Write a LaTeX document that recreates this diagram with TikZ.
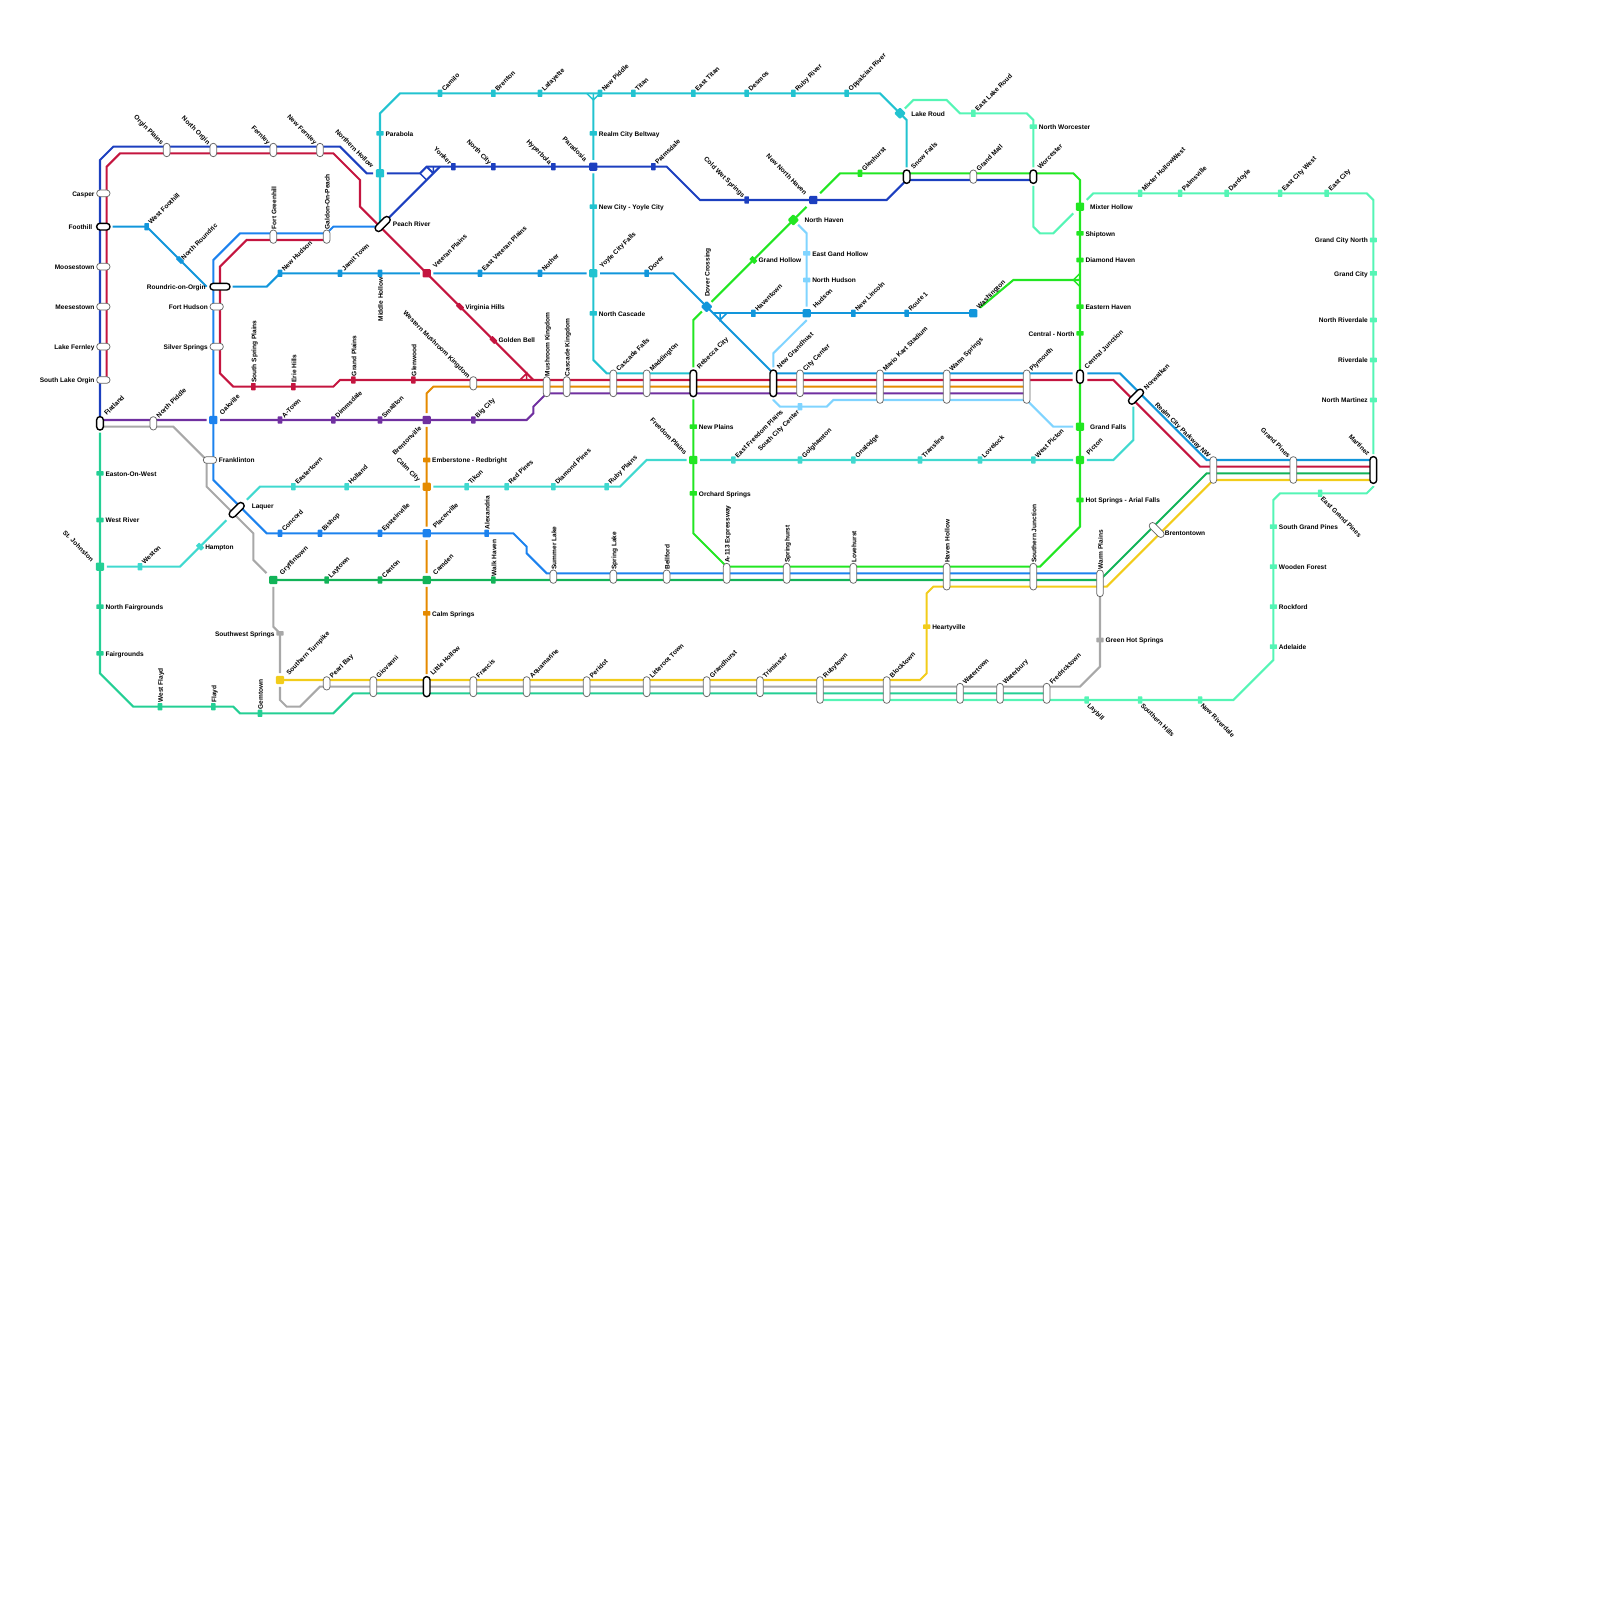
\documentclass[tikz,border=0pt]{standalone}
\usepackage{fontspec}
\setmainfont{Liberation Sans}
\usetikzlibrary{backgrounds}
\definecolor{line-navy}{HTML}{1C3FBF}
\definecolor{line-red}{HTML}{C4153F}
\definecolor{line-cyan}{HTML}{22C3D0}
\definecolor{line-ltblue}{HTML}{1296DB}
\definecolor{line-sky}{HTML}{80D4FF}
\definecolor{line-blue}{HTML}{1C82EE}
\definecolor{line-purple}{HTML}{7030A0}
\definecolor{line-orange}{HTML}{E58A00}
\definecolor{line-bgreen}{HTML}{22E622}
\definecolor{line-dgreen}{HTML}{12B358}
\definecolor{line-turq}{HTML}{40D9CF}
\definecolor{line-foam}{HTML}{24CF94}
\definecolor{line-mint}{HTML}{55F5B5}
\definecolor{line-yellow}{HTML}{F2CC1A}
\definecolor{line-gray}{HTML}{A8A8A8}
\tikzset{
  rail/.style={line width=2.2pt},
  tiny rail/.style={line width=1.6pt},
  stop/.style={rectangle, rounded corners=.02cm, inner sep=0pt, minimum width=.17cm, minimum height=.27cm},
  stoph/.style={rectangle, rounded corners=.02cm, inner sep=0pt, minimum width=.27cm, minimum height=.17cm},
  stopd/.style={stop, rotate=45},
  hub/.style={rectangle, rounded corners=.04cm, inner sep=0pt, minimum size=.31cm, outer sep=.1cm},
  capv/.style={draw=black!60, fill=white, line width=.8pt, rounded corners=.12cm, inner sep=0pt, minimum width=.25cm, minimum height=#1*.25cm},
  caph/.style={draw=black!60, fill=white, line width=.8pt, rounded corners=.12cm, inner sep=0pt, minimum height=.25cm, minimum width=#1*.25cm},
  capk/.style={capv=#1, draw=black, line width=1.5pt, outer sep=.1cm},
  capw/.style={caph=#1, draw=black, line width=1.5pt, outer sep=.1cm},
  lbl/.style={font=\fontsize{7}{8}\selectfont\bfseries, inner sep=0pt, text height=1.6ex, text depth=.4ex, text=black},
  tne/.style={lbl, rotate=45, anchor=west},
  tnw/.style={lbl, rotate=-45, anchor=east},
  tse/.style={lbl, rotate=-45, anchor=west},
  tsw/.style={lbl, rotate=45, anchor=east},
  tn/.style={lbl, rotate=90, anchor=west},
  ts/.style={lbl, rotate=90, anchor=east},
  te/.style={lbl, anchor=west, label distance=.06cm},
  tw/.style={lbl, anchor=east, label distance=.06cm},
}
\begin{document}
\begin{tikzpicture}[x=.25cm, y=-.25cm]
      \useasboundingbox (0,0) rectangle (240,240);
      % left column
      \node[caph=2, label={[tw]180:Casper}] (CASP) at (15.5,29) {};
      \node[capw=2, label={[tw]180:Foothill}] (FOOT) at (15.5,34) {};
      \node[caph=2, label={[tw]180:Moosestown}] (MOOS) at (15.5,40) {};
      \node[caph=2, label={[tw]180:Meesestown}] (MEES) at (15.5,46) {};
      \node[caph=2, label={[tw]180:Lake Fernley}] (LFER) at (15.5,52) {};
      \node[caph=2, label={[tw]180:South Lake Orgin}] (SLO) at (15.5,57) {};
      \node[capk=2, label={[tne]63:Flatland}] (FLAT) at (15,63.5) {};
      % top left
      \node[capv=2, label={[tnw]117:Orgin Plains}] (ORG) at (25,22.5) {};
      \node[capv=2, label={[tnw]117:North Orgin}] (NORG) at (32,22.5) {};
      \node[capv=2, label={[tnw]117:Fernley}] (FERN) at (41,22.5) {};
      \node[capv=2, label={[tnw]117:New Fernley}] (NFER) at (48,22.5) {};
      \node[hub, fill=line-cyan, label={[tnw]135:Northern Hollow}] (NHOL) at (57,26) {};
      \node[capw=2.75, rotate=45, label={[te]-45:Peach River}] (PEAC) at (57.4,33.6) {};
      % light blue and blue, west
      \node[stop, fill=line-ltblue, label={[tne]59:West Foothill}] (WFOO) at (22,34) {};
      \node[stopd, fill=line-ltblue, label={[tne]0:North Roundric}] (NROU) at (27,39) {};
      \node[capw=3, label={[tw]180:Roundric-on-Orgin}] (ROUN) at (33,43) {};
      \node[caph=2, label={[tw]180:Fort Hudson}] (FHUD) at (32.5,46) {};
      \node[caph=2, label={[tw]180:Silver Springs}] (SILV) at (32.5,52) {};
      \node[capv=2, label={[tn]90:Fort Greenhill}] (FGRE) at (41,35.5) {};
      \node[capv=2, label={[tn]90:Galdon-On-Peach}] (GALD) at (49,35.5) {};
      \node[stop, fill=line-ltblue, label={[tne]59:New Hudson}] (NHUD) at (42,41) {};
      \node[stop, fill=line-ltblue, label={[tne]59:Jamit Town}] (JAMI) at (51,41) {};
      \node[stop, fill=line-ltblue, label={[ts]270:Middle Hollow}] (MIDH) at (57,41) {};
      \node[hub, fill=line-red, label={[tne]45:Veteran Plains}] (VET) at (64,41) {};
      \node[stop, fill=line-ltblue, label={[tne]59:East Veteran Plains}] (EVP) at (72,41) {};
      \node[stop, fill=line-ltblue, label={[tne]59:Nother}] (NOTH) at (81,41) {};
      \node[hub, fill=line-cyan, label={[tne]45:Yoyle City Falls}] (YCF) at (89,41) {};
      \node[stop, fill=line-ltblue, label={[tne]59:Dover}] (DOVR) at (97,41) {};
      \node[hub, rotate=45, fill=line-ltblue, label={[tn]45:Dover Crossing}] (DOVC) at (106,46) {};
      \node[stop, fill=line-ltblue, label={[tne]59:Haventown}] (HAVE) at (113,47) {};
      \node[hub, fill=line-ltblue, label={[tne]45:Hudson}] (HUDS) at (121,47) {};
      \node[stop, fill=line-ltblue, label={[tne]59:New Lincoln}] (NLIN) at (128,47) {};
      \node[stop, fill=line-ltblue, label={[tne]59:Route 1}] (ROUT) at (136,47) {};
      \node[hub, fill=line-ltblue, label={[tne, xshift=-.1cm, yshift=.06cm]45:Washington}] (WASH) at (146,47) {};
      % red
      \node[stopd, fill=line-red, label={[te]-45:Virginia Hills}] (VIRG) at (69,46) {};
      \node[stopd, fill=line-red, label={[te]-45:Golden Bell}] (GOLD) at (74,51) {};
      \node[stop, fill=line-red, label={[tn]90:South Spring Plains}] (SSP) at (38,58) {};
      \node[stop, fill=line-red, label={[tn]90:Erie Hills}] (ERIE) at (44,58) {};
      \node[stop, fill=line-red, label={[tn]90:Grand Plains}] (GRPL) at (53,57) {};
      \node[stop, fill=line-red, label={[tn]90:Glenwood}] (GLEN) at (62,57) {};
      % cyan
      \node[stoph, fill=line-cyan, label={[te]0:Parabola}] (PARB) at (57,20) {};
      \node[stop, fill=line-cyan, label={[tne]59:Camilo}] (CAMI) at (66,14) {};
      \node[stop, fill=line-cyan, label={[tne]59:Brenton}] (BREN) at (74,14) {};
      \node[stop, fill=line-cyan, label={[tne]59:Lafayette}] (LAFA) at (81,14) {};
      \node[stop, fill=line-cyan, label={[tne]59:New Piddle}] (NPID) at (90,14) {};
      \node[stop, fill=line-cyan, label={[tne]59:Titan}] (TITA) at (95,14) {};
      \node[stop, fill=line-cyan, label={[tne]59:East Titan}] (ETIT) at (104,14) {};
      \node[stop, fill=line-cyan, label={[tne]59:Desmos}] (DESM) at (112,14) {};
      \node[stop, fill=line-cyan, label={[tne]59:Ruby River}] (RUBY) at (119,14) {};
      \node[stop, fill=line-cyan, label={[tne]59:Oppalcian River}] (OPPA) at (127,14) {};
      \node[hub, rotate=45, fill=line-cyan, label={[te]-45:Lake Roud}] (LAKE) at (135,17) {};
      \node[stoph, fill=line-cyan, label={[te]0:Realm City Beltway}] (RCB) at (89,20) {};
      \node[stoph, fill=line-cyan, label={[te]0:New City - Yoyle City}] (NCYC) at (89,31) {};
      \node[stoph, fill=line-cyan, label={[te]0:North Cascade}] (NCAS) at (89,47) {};
      % navy
      \node[stop, fill=line-navy, label={[tnw]121:Yonker}] (YONK) at (68,25) {};
      \node[stop, fill=line-navy, label={[tnw]121:North City}] (NCIT) at (74,25) {};
      \node[stop, fill=line-navy, label={[tnw]121:Hyperbola}] (HYPE) at (83,25) {};
      \node[hub, fill=line-navy, label={[tnw]135:Paradosia}] (PARA) at (89,25) {};
      \node[stop, fill=line-navy, label={[tne]59:Palmsdale}] (PALM) at (98,25) {};
      \node[stop, fill=line-navy, label={[tnw]121:Cold Wet Springs}] (CWS) at (112,30) {};
      \node[hub, fill=line-navy, label={[tnw]135:New North Haven}] (NNH) at (122,30) {};
      % bright green
      \node[stop, fill=line-bgreen, label={[tne]59:Glenhurst}] (GLHU) at (129,26) {};
      \node[capk=2, label={[tne]63:Snow Falls}] (SNOW) at (136,26.5) {};
      \node[capv=2, label={[tne]63:Grand Mall}] (GMAL) at (146,26.5) {};
      \node[capk=2, label={[tne]63:Worcester}] (WORC) at (155,26.5) {};
      \node[hub, rotate=45, fill=line-bgreen, label={[te]-45:North Haven}] (NHAV) at (119,33) {};
      \node[stopd, fill=line-bgreen, label={[te]-45:Grand Hollow}] (GHOL) at (113,39) {};
      \node[hub, fill=line-bgreen, label={[te, label distance=.12cm]0:Mixter Hollow}] (MIXT) at (162,31) {};
      \node[stoph, fill=line-bgreen, label={[te]0:Shiptown}] (SHIP) at (162,35) {};
      \node[stoph, fill=line-bgreen, label={[te]0:Diamond Haven}] (DHAV) at (162,39) {};
      \node[stoph, fill=line-bgreen, label={[te]0:Eastern Haven}] (EHAV) at (162,46) {};
      \node[stoph, fill=line-bgreen, label={[tw]180:Central - North}] (CNOR) at (162,50) {};
      \node[capk=2, label={[tne]63:Central Junction}] (CJUN) at (162,56.5) {};
      \node[hub, fill=line-bgreen, label={[te, label distance=.12cm]0:Grand Falls}] (GFAL) at (162,64) {};
      \node[hub, fill=line-bgreen, label={[tne]45:Picton}] (PICT) at (162,69) {};
      \node[stoph, fill=line-bgreen, label={[te]0:Hot Springs - Arial Falls}] (HOTS) at (162,75) {};
      \node[stoph, fill=line-bgreen, label={[te]0:New Plains}] (NPLA) at (104,64) {};
      \node[hub, fill=line-bgreen, label={[tnw]135:Freedom Plains}] (FREE) at (104,69) {};
      \node[stoph, fill=line-bgreen, label={[te]0:Orchard Springs}] (ORCH) at (104,74) {};
      % sky
      \node[stoph, fill=line-sky, label={[te]0:East Gand Hollow}] (EGAN) at (121,38) {};
      \node[stoph, fill=line-sky, label={[te]0:North Hudson}] (NHSN) at (121,42) {};
      \node[stop, fill=line-sky, label={[tsw]239:South City Center}] (SCC) at (120,61) {};
      % trunk
      \node[capv=2, label={[tnw]117:Western Mushroom Kingdom}] (WMK) at (71,57.5) {};
      \node[capv=3, label={[tn]90:Mushroom Kingdom}] (MUSH) at (82,58) {};
      \node[capv=3, label={[tn]90:Cascade Kingdom}] (CASK) at (85,58) {};
      \node[capv=4, label={[tne]76:Cascade Falls}] (CASF) at (92,57.5) {};
      \node[capv=4, label={[tne]76:Maddington}] (MADD) at (97,57.5) {};
      \node[capk=4, label={[tne]76:Rebecca City}] (REBC) at (104,57.5) {};
      \node[capk=4, label={[tne]76:New Grandhust}] (NGRA) at (116,57.5) {};
      \node[capv=4, label={[tne]76:City Center}] (CITY) at (120,57.5) {};
      \node[capv=5, label={[tne]79:Mario Kart Stadium}] (MARI) at (132,58) {};
      \node[capv=5, label={[tne]79:Warm Springs}] (WARS) at (142,58) {};
      \node[capv=5, label={[tne]79:Plymouth}] (PLYM) at (154,58) {};
      \node[capw=2.75, rotate=45, label={[tne]0:Norwalken}] (NORW) at (170.4,59.5) {};
      \node[capv=4, label={[tnw]104:Realm City Parkway NW}] (RCP) at (182,70.5) {};
      \node[capv=4, label={[tnw]104:Grand Pines}] (GPIN) at (194,70.5) {};
      \node[capk=4, label={[tnw]104:Martinez}] (MART) at (206,70.5) {};
      \node[caph=2.75, rotate=-45, label={[te, yshift=-.1cm, label distance=.1cm]45:Brentontown}] (BRTT) at (173.5,79.5) {};
      % purple
      \node[capv=2, label={[tne]63:North Piddle}] (NPDL) at (23,63.5) {};
      \node[hub, fill=line-blue, label={[tne]45:Oakville}] (OAKV) at (32,63) {};
      \node[stop, fill=line-purple, label={[tne]59:A-Town}] (ATOW) at (42,63) {};
      \node[stop, fill=line-purple, label={[tne]59:Dimmsdale}] (DIMM) at (50,63) {};
      \node[stop, fill=line-purple, label={[tne]59:Smallton}] (SMAL) at (57,63) {};
      \node[hub, fill=line-purple, label={[tsw]225:Brentonville}] (BRTV) at (64,63) {};
      \node[stop, fill=line-purple, label={[tne]59:Big City}] (BIGC) at (71,63) {};
      % orange
      \node[stoph, fill=line-orange, label={[te]0:Emberstone - Redbright}] (EMBE) at (64,69) {};
      \node[hub, fill=line-orange, label={[tnw]135:Calm City}] (CALM) at (64,73) {};
      \node[stoph, fill=line-orange, label={[te]0:Calm Springs}] (CSPR) at (64,92) {};
      % turquoise
      \node[stop, fill=line-turq, label={[tne]59:Weston}] (WEST) at (21,85) {};
      \node[stopd, fill=line-turq, label={[te]-45:Hampton}] (HAMP) at (30,82) {};
      \node[stop, fill=line-turq, label={[tne]59:Eastertown}] (EAST) at (44,73) {};
      \node[stop, fill=line-turq, label={[tne]59:Holland}] (HOLL) at (52,73) {};
      \node[stop, fill=line-turq, label={[tne]59:Tikon}] (TIKO) at (70,73) {};
      \node[stop, fill=line-turq, label={[tne]59:Red Pines}] (REDP) at (76,73) {};
      \node[stop, fill=line-turq, label={[tne]59:Diamond Pines}] (DIAM) at (83,73) {};
      \node[stop, fill=line-turq, label={[tne]59:Ruby Plains}] (RUBP) at (91,73) {};
      \node[stop, fill=line-turq, label={[tne]59:East Freedom Plains}] (EFRE) at (110,69) {};
      \node[stop, fill=line-turq, label={[tne]59:Golghamton}] (GOLG) at (120,69) {};
      \node[stop, fill=line-turq, label={[tne]59:Onalodge}] (ONAL) at (128,69) {};
      \node[stop, fill=line-turq, label={[tne]59:Transline}] (TRAN) at (138,69) {};
      \node[stop, fill=line-turq, label={[tne]59:Lovelock}] (LOVE) at (147,69) {};
      \node[stop, fill=line-turq, label={[tne]59:West Picton}] (WPIC) at (155,69) {};
      % blue south
      \node[caph=2, label={[te]0:Franklinton}] (FRAN) at (31.5,69) {};
      \node[capw=2.75, rotate=45, outer sep=.2cm, label={[te, yshift=.15cm, label distance=.1cm]-45:Laquer}] (LAQ) at (35.5,76.5) {};
      \node[stop, fill=line-blue, label={[tne]59:Concord}] (CONC) at (42,80) {};
      \node[stop, fill=line-blue, label={[tne]59:Bishop}] (BISH) at (48,80) {};
      \node[stop, fill=line-blue, label={[tne]59:Epsteinville}] (EPST) at (57,80) {};
      \node[hub, fill=line-blue, label={[tne]45:Placerville}] (PLAC) at (64,80) {};
      \node[stop, fill=line-blue, label={[tn]90:Alexandria}] (ALEX) at (73,80) {};
      \node[capv=2, label={[tn]90:Summer Lake}] (SUML) at (83,86.5) {};
      \node[capv=2, label={[tn]90:Spring Lake}] (SPRL) at (92,86.5) {};
      \node[capv=2, label={[tn]90:Bellford}] (BELL) at (100,86.5) {};
      \node[capv=3, label={[tn]90:A-113 Expressway}] (A113) at (109,86) {};
      \node[capv=3, label={[tn]90:Springhurst}] (SPHU) at (118,86) {};
      \node[capv=3, label={[tn]90:Lovehurst}] (LOHU) at (128,86) {};
      \node[capv=4, label={[tn]90:Haven Hollow}] (HAVH) at (142,86.5) {};
      \node[capv=4, label={[tn]90:Southern Junction}] (SJUN) at (155,86.5) {};
      \node[capv=4, label={[tn]90:Warm Plains}] (WPLA) at (165,87.5) {};
      % dark green
      \node[hub, fill=line-dgreen, label={[tne]45:Gryffintown}] (GRYF) at (41,87) {};
      \node[stop, fill=line-dgreen, label={[tne]59:Laytown}] (LAYT) at (49,87) {};
      \node[stop, fill=line-dgreen, label={[tne]59:Canton}] (CANT) at (57,87) {};
      \node[hub, fill=line-dgreen, label={[tne]45:Camden}] (CAMD) at (64,87) {};
      \node[stop, fill=line-dgreen, label={[tn]90:Walk Haven}] (WALK) at (74,87) {};
      % south row
      \node[hub, fill=line-yellow, label={[tne]45:Southern Turnpike}] (STUR) at (42,102) {};
      \node[stoph, fill=line-gray, label={[tw]180:Southwest Springs}] (SWSP) at (42,95) {};
      \node[capv=2, label={[tne]63:Pearl Bay}] (PEAR) at (49,102.5) {};
      \node[capv=3, label={[tne]72:Giovanni}] (GIOV) at (56,103) {};
      \node[capk=3, label={[tne]72:Little Hollow}] (LITH) at (64,103) {};
      \node[capv=3, label={[tne]72:Francis}] (FRCS) at (71,103) {};
      \node[capv=3, label={[tne]72:Aquamarine}] (AQUA) at (79,103) {};
      \node[capv=3, label={[tne]72:Peridot}] (PERI) at (88,103) {};
      \node[capv=3, label={[tne]72:Litteroot Town}] (LITT) at (97,103) {};
      \node[capv=3, label={[tne]72:Grandhurst}] (GHUR) at (106,103) {};
      \node[capv=3, label={[tne]72:Triminster}] (TRIM) at (114,103) {};
      \node[capv=4, label={[tne]76:Rubytown}] (RUBT) at (123,103.5) {};
      \node[capv=4, label={[tne]76:Blocktown}] (BLOC) at (133,103.5) {};
      \node[capv=3, label={[tne]72:Watertown}] (WATT) at (144,104) {};
      \node[capv=3, label={[tne]72:Waterbury}] (WATB) at (150,104) {};
      \node[capv=3, label={[tne]72:Fredricktown}] (FRED) at (157,104) {};
      \node[stoph, fill=line-yellow, label={[te]0:Heartyville}] (HEAR) at (139,94) {};
      \node[stoph, fill=line-gray, label={[te]0:Green Hot Springs}] (GHOT) at (165,96) {};
      % sea green
      \node[stoph, fill=line-foam, label={[te]0:Easton-On-West}] (EOW) at (15,71) {};
      \node[stoph, fill=line-foam, label={[te]0:West River}] (WRIV) at (15,78) {};
      \node[hub, fill=line-foam, label={[tnw]135:St. Johnston}] (STJO) at (15,85) {};
      \node[stoph, fill=line-foam, label={[te]0:North Fairgrounds}] (NFAI) at (15,91) {};
      \node[stoph, fill=line-foam, label={[te]0:Fairgrounds}] (FAIR) at (15,98) {};
      \node[stop, fill=line-foam, label={[tn]90:West Flayd}] (WFLA) at (24,106) {};
      \node[stop, fill=line-foam, label={[tn]90:Flayd}] (FLAY) at (32,106) {};
      \node[stop, fill=line-foam, label={[tn]90:Gemtown}] (GEMT) at (39,107) {};
      % mint
      \node[stoph, fill=line-mint, label={[te]0:North Worcester}] (NWOR) at (155,19) {};
      \node[stop, fill=line-mint, label={[tne]59:East Lake Roud}] (ELRD) at (146,17) {};
      \node[stop, fill=line-mint, label={[tne]59:Mixter HollowWest}] (MHW) at (171,29) {};
      \node[stop, fill=line-mint, label={[tne]59:Palmsville}] (PALV) at (177,29) {};
      \node[stop, fill=line-mint, label={[tne]59:Dardoyle}] (DARD) at (184,29) {};
      \node[stop, fill=line-mint, label={[tne]59:East City West}] (ECW) at (192,29) {};
      \node[stop, fill=line-mint, label={[tne]59:East City}] (ECIT) at (199,29) {};
      \node[stoph, fill=line-mint, label={[tw]180:Grand City North}] (GCN) at (206,36) {};
      \node[stoph, fill=line-mint, label={[tw]180:Grand City}] (GCIT) at (206,41) {};
      \node[stoph, fill=line-mint, label={[tw]180:North Riverdale}] (NRIV) at (206,48) {};
      \node[stoph, fill=line-mint, label={[tw]180:Riverdale}] (RIVD) at (206,54) {};
      \node[stoph, fill=line-mint, label={[tw]180:North Martinez}] (NMAR) at (206,60) {};
      \node[stop, fill=line-mint, label={[tse]-59:East Grand Pines}] (EGP) at (198,74) {};
      \node[stoph, fill=line-mint, label={[te]0:South Grand Pines}] (SGP) at (191,79) {};
      \node[stoph, fill=line-mint, label={[te]0:Wooden Forest}] (WFOR) at (191,85) {};
      \node[stoph, fill=line-mint, label={[te]0:Rockford}] (ROCK) at (191,91) {};
      \node[stoph, fill=line-mint, label={[te]0:Adelaide}] (ADEL) at (191,97) {};
      \node[stop, fill=line-mint, label={[tse]-59:Laybill}] (LAYB) at (163,105) {};
      \node[stop, fill=line-mint, label={[tse]-59:Southern Hills}] (SHIL) at (171,105) {};
      \node[stop, fill=line-mint, label={[tse]-59:New Riverdale}] (NRVD) at (180,105) {};
      \coordinate (PEACn) at (57,33.3);
      \coordinate (PEACw) at (56.3,34);
      \begin{pgfonlayer}{background}
      % gray first, the rest over it
      \draw[rail, draw=line-gray] ([yshift=-.125cm]FLAT.center) -- (26,64) -- (31,69) -- (31,73) -- (38,80) -- (38,84) -- (GRYF) -- (41,94) -- (SWSP.center) -- (STUR) -- (42,105) -- (43,106) -- (45,106) -- (48,103) -- (162,103) -- (165,100) -- (GHOT.center) -- (WPLA.center);
      \draw[rail, draw=line-navy] (FLAT.center) -- (15,24) -- (17,22) -- (51,22) -- (55,26) -- (NHOL) -- (63,26) -- (64,25) -- (YONK.center) -- (NCIT.center) -- (HYPE.center) -- (PARA.center) -- (PALM.center) -- (100,25) -- (105,30) -- (CWS.center) -- (NNH.center) -- (133,30) -- (136,27) -- ([yshift=-.125cm]WORC.center);
      \draw[rail, draw=line-navy] (PEAC.center) -- (66,25) -- (65,26) -- (64,25);
      \draw[tiny rail, draw=line-navy] (63,26) -- (64,27) (65,25) -- (65,26);
      \draw[rail, draw=line-red] ([xshift=.125cm]SLO.center) -- (16,25) -- (18,23) -- (50,23) -- (54,27) -- (54,31) -- (VET.center) -- (VIRG.center) -- (GOLD.center) -- (79,56) -- (80,57);
      \draw[tiny rail, draw=line-red] (78,57) -- (79,56) -- (79,57);
      \draw[rail, draw=line-red] ([yshift=-.125cm]GALD.center) -- (37,36) -- (33,40) -- (ROUN.center) -- (33,56) -- (35,58) -- (SSP.center) -- (ERIE.center) -- (50,58) -- (51,57) -- (GRPL.center) -- (GLEN.center) -- ([xshift=-.28cm,yshift=-.125cm]CJUN.center) ([xshift=.28cm,yshift=-.125cm]CJUN.center) -- (167,57) -- (180,70) -- ([yshift=.125cm]MART.center);
      \draw[rail, draw=line-blue] (PEACw) -- (50,34) -- (49,35) -- (36,35) -- (32,39) -- (OAKV.center) -- (32,72) -- (40,80) -- (CONC.center) -- (BISH.center) -- (EPST.center) -- (PLAC.center) -- (ALEX.center) -- (77,80) -- (79,82) -- (79,83) -- (82,86) -- ([yshift=.375cm]WPLA.center);
      \draw[rail, draw=line-ltblue] (FOOT) -- (WFOO.center) -- (NROU.center) -- (31,43);
      \draw[rail, draw=line-ltblue] (ROUN) -- (40,43) -- (NHUD.center) -- (JAMI.center) -- (MIDH.center) -- (VET) -- (EVP.center) -- (NOTH.center) -- (YCF) -- (DOVR.center) -- (101,41) -- (DOVC.center) -- ([yshift=.375cm]NGRA.center) -- ([xshift=-.28cm,yshift=.125cm]CJUN.center) ([xshift=.28cm,yshift=.125cm]CJUN.center) -- (168,56) -- (181,69) -- ([yshift=.375cm]MART.center);
      \draw[rail, draw=line-ltblue] (107,47) -- (HAVE.center) -- (HUDS.center) -- (NLIN.center) -- (ROUT.center) -- (WASH.center);
      \draw[tiny rail, draw=line-ltblue] (108,47) -- (108,48) -- (109,47);
      \draw[rail, draw=line-cyan] (PEACn) -- (NHOL.center) -- (PARB.center) -- (57,17) -- (60,14) -- (CAMI.center) -- (BREN.center) -- (LAFA.center) -- (NPID.center) -- (TITA.center) -- (ETIT.center) -- (DESM.center) -- (RUBY.center) -- (OPPA.center) -- (132,14) -- (LAKE.center) -- (136,18) -- (SNOW);
      \draw[rail, draw=line-cyan] (89,15) -- (RCB.center) -- (PARA) -- (NCYC.center) -- (YCF.center) -- (NCAS.center) -- (89,54) -- (91,56) -- ([yshift=.375cm]REBC.center);
      \draw[tiny rail, draw=line-cyan] (88,14) -- (89,15) -- (90,14) (89,14) -- (89,15);
      \draw[rail, draw=line-bgreen] (WASH) -- (152,42) -- (162,42);
      \draw[tiny rail, draw=line-bgreen] (162,41) -- (161,42) -- (162,43);
      \draw[rail, draw=line-bgreen] (REBC) -- (104,48) -- (DOVC) -- (GHOL.center) -- (NHAV.center) -- (NNH) -- (126,26) -- (GLHU.center) -- (161,26) -- (162,27) -- (MIXT.center) -- (SHIP.center) -- (DHAV.center) -- (EHAV.center) -- (CNOR.center) -- (CJUN.center) -- (GFAL.center) -- (PICT.center) -- (HOTS.center) -- (162,79) -- (156,85) -- (109,85) -- (104,80) -- (ORCH.center) -- (FREE.center) -- (NPLA.center) -- (REBC);
      \draw[rail, draw=line-orange] (PLYM.center) -- (65,58) -- (64,59) -- (BRTV) -- (EMBE.center) -- (CALM.center) -- (PLAC) -- (CAMD) -- (CSPR.center) -- (LITH);
      \draw[rail, draw=line-purple] ([yshift=.125cm]FLAT.center) -- (OAKV) -- (ATOW.center) -- (DIMM.center) -- (SMAL.center) -- (BRTV.center) -- (BIGC.center) -- (79,63) -- (80,62) -- (80,61) -- (82,59) -- ([yshift=-.25cm]PLYM.center);
      \draw[rail, draw=line-sky] (NHAV) -- (121,35) -- (EGAN.center) -- (NHSN.center) -- (HUDS.north);
      \draw[rail, draw=line-sky] (HUDS.south) -- (116,53) -- (NGRA);
      \draw[rail, draw=line-sky] (NGRA) -- (116,60) -- (117,61) -- (SCC.center) -- (124,61) -- (125,60) -- ([yshift=-.5cm]PLYM.center) -- (158,64) -- (GFAL);
      \draw[rail, draw=line-turq] (STJO) -- (WEST.center) -- (27,85) -- (HAMP.center) -- (LAQ) -- (39,73) -- (EAST.center) -- (HOLL.center) -- (CALM) -- (TIKO.center) -- (REDP.center) -- (DIAM.center) -- (RUBP.center) -- (93,73) -- (97,69) -- (FREE) -- (EFRE.center) -- (GOLG.center) -- (ONAL.center) -- (TRAN.center) -- (LOVE.center) -- (WPIC.center) -- (PICT) -- (167,69) -- (170,66) -- (170,61);
      \draw[rail, draw=line-dgreen] (GRYF.center) -- (LAYT.center) -- (CANT.center) -- (CAMD.center) -- (WALK.center) -- ([yshift=.125cm]WPLA.center) -- (181,71) -- ([yshift=-.125cm]MART.center);
      \draw[rail, draw=line-yellow] (STUR.center) -- (138,102) -- (139,101) -- (HEAR.center) -- (139,89) -- (140,88) -- (166,88) -- (182,72) -- ([yshift=-.375cm]MART.center);
      \draw[rail, draw=line-foam] (FLAT) -- (EOW.center) -- (WRIV.center) -- (STJO.center) -- (NFAI.center) -- (FAIR.center) -- (15,101) -- (20,106) -- (WFLA.center) -- (FLAY.center) -- (35,106) -- (36,107) -- (GEMT.center) -- (50,107) -- (53,104) -- (FRED.center);
      \draw[rail, draw=line-mint] ([yshift=-.375cm]RUBT.center) -- (LAYB.center) -- (SHIL.center) -- (NRVD.center) -- (185,105) -- (191,99) -- (ADEL.center) -- (ROCK.center) -- (WFOR.center) -- (SGP.center) -- (191,75) -- (192,74) -- (EGP.center) -- (205,74) -- (206,73) -- (MART) -- (NMAR.center) -- (RIVD.center) -- (NRIV.center) -- (GCIT.center) -- (GCN.center) -- (206,30) -- (205,29) -- (ECIT.center) -- (ECW.center) -- (DARD.center) -- (PALV.center) -- (MHW.center) -- (164,29) -- (MIXT) -- (158,35) -- (156,35) -- (155,34) -- (WORC) -- (NWOR.center) -- (155,18) -- (154,17) -- (ELRD.center) -- (144,17) -- (142,15) -- (137,15) -- (LAKE);
      \end{pgfonlayer}
    \end{tikzpicture}
\end{document}
